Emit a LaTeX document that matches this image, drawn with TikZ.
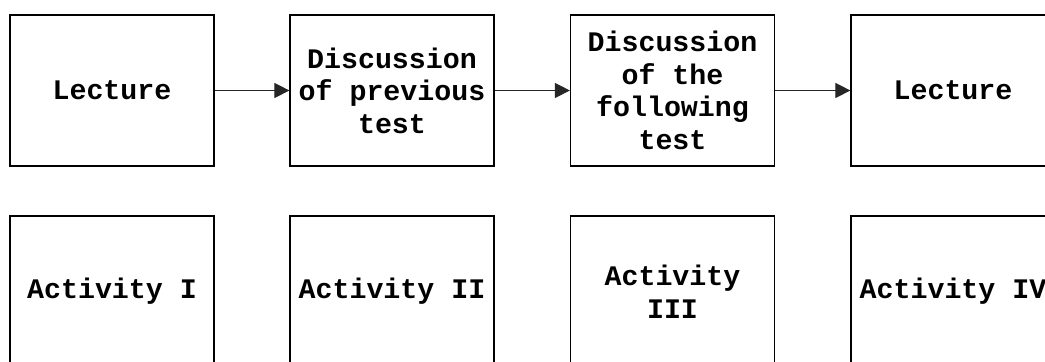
\documentclass[tikz,border=0pt]{standalone}
\usepackage{fontspec}
\newfontfamily\courfont{Liberation Mono}
\usetikzlibrary{arrows.meta}
\begin{document}
\begin{tikzpicture}[x=0.5pt,y=-0.5pt,
  box/.style={draw=black, line width=0.6pt, fill=white, minimum width=102pt, minimum height=75.5pt,
    inner sep=0pt, align=center, font=\courfont\bfseries\fontsize{14.15}{16.3}\selectfont},
  conn/.style={draw=black!85, line width=0.5pt, -{Triangle[length=7.5pt,width=7.5pt]}}]
\useasboundingbox (0,0) rectangle (1045,362);
\clip (0,0) rectangle (1045,362);
\node[box] (l1) at (112,90.5) {Lecture};
\node[box] (d1) at (392,90.5) {Discussion\\of previous\\test};
\node[box] (d2) at (672.5,90.5) {Discussion\\of the\\following\\test};
\node[box] (l2) at (953,90.5) {Lecture};
\node[box] (a1) at (112,291.5) {Activity I};
\node[box] (a2) at (392,291.5) {Activity II};
\node[box] (a3) at (672.5,291.5) {Activity\\III};
\node[box] (a4) at (953,291.5) {Activity IV};
\draw[conn] (l1.east) -- (d1.west);
\draw[conn] (d1.east) -- (d2.west);
\draw[conn] (d2.east) -- (l2.west);
\end{tikzpicture}
\end{document}
